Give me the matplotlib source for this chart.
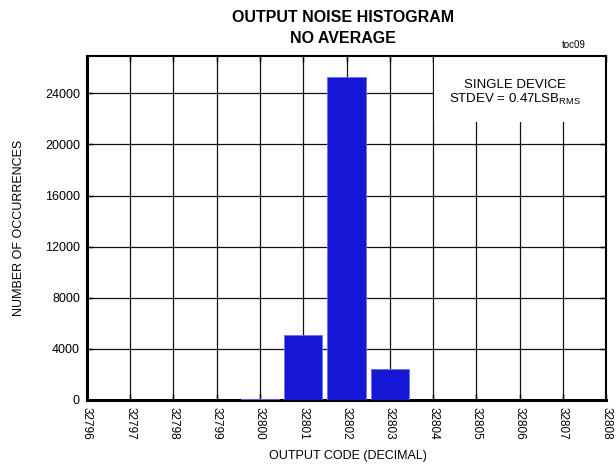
import numpy as np
import matplotlib.pyplot as plt

plt.rcParams['font.family'] = ['Liberation Sans', 'DejaVu Sans']

# histogram data
codes = [32800, 32801, 32802, 32803]
counts = [100, 5050, 25250, 2450]
x_ticks = list(range(32796, 32809))
y_ticks = [0, 4000, 8000, 12000, 16000, 20000, 24000]

fig = plt.figure(figsize=(6.16, 4.66), dpi=100)
ax = fig.add_axes([0.141, 0.142, 0.843, 0.737])

ax.set_xlim(32796, 32808)
ax.set_ylim(0, 26900)

# grid drawn by hand so the legend box can hide part of it
ax.vlines(x_ticks, 0, 26900, color='#111111', linewidth=0.9, zorder=1)
ax.hlines(y_ticks, 32796, 32808, color='#111111', linewidth=0.9, zorder=1)

ax.bar(codes, counts, width=0.88, color='#1616d6', edgecolor='#6f6fe6',
       linewidth=0.6, zorder=3)

ax.set_xticks(x_ticks)
ax.set_xticklabels([str(t) for t in x_ticks], rotation=270, fontsize=8.5)
ax.set_yticks(y_ticks)
ax.set_yticklabels([str(t) for t in y_ticks], fontsize=9)
ax.tick_params(direction='in', length=4, width=1, top=True, right=True, pad=5)

for side in ['left', 'bottom']:
    ax.spines[side].set_linewidth(2.2)
for side in ['top', 'right']:
    ax.spines[side].set_linewidth(1.5)

# white box in the upper right corner
ax.add_patch(plt.Rectangle((0.669, 0.81), 0.331, 0.19, transform=ax.transAxes,
                           facecolor='white', edgecolor='none', zorder=2))
ax.text(0.825, 0.893, 'SINGLE DEVICE\nSTDEV = 0.47LSB$_{\\mathregular{RMS}}$',
        transform=ax.transAxes, ha='center', va='center', fontsize=9.5,
        multialignment='center', linespacing=1.1, zorder=5)

ax.set_ylabel('NUMBER OF OCCURRENCES', fontsize=9, labelpad=14)
fig.text(0.565, 0.022, 'OUTPUT CODE (DECIMAL)', ha='center', va='center', fontsize=9)

fig.text(0.557, 0.962, 'OUTPUT NOISE HISTOGRAM', ha='center', va='center',
         fontsize=11.5, fontweight='bold')
fig.text(0.557, 0.917, 'NO AVERAGE', ha='center', va='center',
         fontsize=11.5, fontweight='bold')
fig.text(0.932, 0.903, 'toc09', ha='center', va='center', fontsize=7)

fig.savefig('out.png', dpi=100)
